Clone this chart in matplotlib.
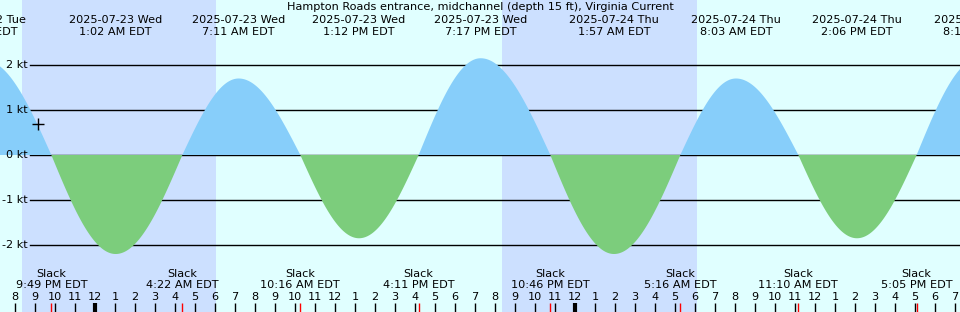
import numpy as np
import matplotlib
matplotlib.use("Agg")
import matplotlib.pyplot as plt

# ---- data (hours since 2025-07-22 8:00 PM EDT) ----
title = "Hampton Roads entrance, midchannel (depth 15 ft), Virginia Current"

event_hours = [-1.5, 1.817, 5.033, 8.367, 11.183, 14.267, 17.2, 20.183, 23.283,
               26.767, 29.95, 33.267, 36.05, 39.167, 42.1, 45.083, 48.2]
event_values = [2.1, 0.0, -2.2, 0.0, 1.7, 0.0, -1.85, 0.0, 2.15,
                0.0, -2.2, 0.0, 1.7, 0.0, -1.85, 0.0, 2.15]

extreme_hours = [-1.65, 5.033, 11.183, 17.2, 23.283, 29.95, 36.05, 42.1, 48.2]
extreme_dates = ["2025-07-22 Tue", "2025-07-23 Wed", "2025-07-23 Wed", "2025-07-23 Wed",
                 "2025-07-23 Wed", "2025-07-24 Thu", "2025-07-24 Thu", "2025-07-24 Thu",
                 "2025-07-24 Thu"]
extreme_times = ["6:21 PM EDT", "1:02 AM EDT", "7:11 AM EDT", "1:12 PM EDT",
                 "7:17 PM EDT", "1:57 AM EDT", "8:03 AM EDT", "2:06 PM EDT",
                 "8:12 PM EDT"]

slack_hours = [1.817, 8.367, 14.267, 20.183, 26.767, 33.267, 39.167, 45.083]
slack_times = ["9:49 PM EDT", "4:22 AM EDT", "10:16 AM EDT", "4:11 PM EDT",
               "10:46 PM EDT", "5:16 AM EDT", "11:10 AM EDT", "5:05 PM EDT"]

night_start = [0.35, 24.35]
night_end = [10.05, 34.1]

hour_ticks = list(range(0, 48))
hour_labels = [str(((20 + h - 1) % 12) + 1) for h in hour_ticks]
midnight_hours = [4, 28]

level_values = [2, 1, 0, -1, -2]
level_labels = ["2 kt", "1 kt", "0 kt", "-1 kt", "-2 kt"]

marker_hour = 1.15
marker_value = 0.69

# ---- geometry (20 px per hour, 45 px per knot) ----
X0, X1 = -0.75, 47.25
Y0, Y1 = -157 / 45, 155 / 45

def px_y(p):
    return (155 - p) / 45.0

bg = "#E0FFFF"
night = "#CCE0FF"
flood = "#87CEFA"
ebb = "#7CCD7C"
FS = 8.1

fig = plt.figure(figsize=(9.6, 3.12), dpi=100)
fig.patch.set_facecolor(bg)
ax = fig.add_axes([0, 0, 1, 1])
ax.set_facecolor(bg)
ax.set_xlim(X0, X1)
ax.set_ylim(Y0, Y1)
ax.axis("off")

for s, e in zip(night_start, night_end):
    ax.axvspan(s, e, color=night, lw=0, zorder=0)

# grid lines
for v, lab in zip(level_values, level_labels):
    ax.plot([0.75, X1], [v, v], color="black", lw=1, zorder=1)
    ax.text(0.65, v, lab, ha="right", va="center", fontsize=FS, zorder=5)

# curve between events (quarter-sine segments)
t = np.linspace(X0, X1, 3000)
vals = np.zeros_like(t)
for i in range(len(event_hours) - 1):
    ta, tb = event_hours[i], event_hours[i + 1]
    va, vb = event_values[i], event_values[i + 1]
    m = (t >= ta) & (t <= tb)
    s = (t[m] - ta) / (tb - ta)
    if va == 0:
        vals[m] = vb * np.sin(np.pi / 2 * s)
    else:
        vals[m] = va * np.cos(np.pi / 2 * s)
ax.fill_between(t, 0, vals, where=vals >= 0, color=flood, lw=0, interpolate=True, zorder=2)
ax.fill_between(t, 0, vals, where=vals <= 0, color=ebb, lw=0, interpolate=True, zorder=2)

ax.plot([marker_hour], [marker_value], marker="+", color="black", markersize=9,
        markeredgewidth=1, zorder=6)

# title and extreme labels
ax.text((X0 + X1) / 2, px_y(7), title, ha="center", va="center", fontsize=FS, zorder=6)
for h, d, tm in zip(extreme_hours, extreme_dates, extreme_times):
    ax.text(h, px_y(20), d, ha="center", va="center", fontsize=FS, zorder=6)
    ax.text(h, px_y(32), tm, ha="center", va="center", fontsize=FS, zorder=6)

# slack labels
for h, tm in zip(slack_hours, slack_times):
    ax.text(h, px_y(274), "Slack", ha="center", va="center", fontsize=FS, zorder=6)
    ax.text(h, px_y(285.5), tm, ha="center", va="center", fontsize=FS, zorder=6)

# hour ticks
for h, lab in zip(hour_ticks, hour_labels):
    ax.text(h, px_y(297), lab, ha="center", va="center", fontsize=FS, zorder=6)
    lw = 3 if h in midnight_hours else 1
    ax.plot([h, h], [px_y(303), Y0], color="black", lw=lw, solid_capstyle="butt", zorder=5)
for h in slack_hours:
    ax.plot([h, h], [px_y(303), Y0], color="red", lw=1, solid_capstyle="butt", zorder=5)

fig.savefig("out.png", dpi=100, facecolor=bg)
